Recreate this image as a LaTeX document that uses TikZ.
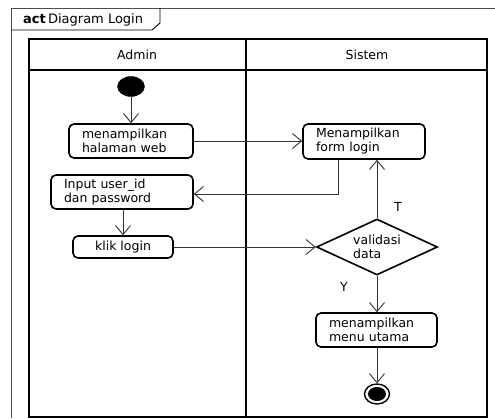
\documentclass[tikz,border=0pt]{standalone}
\usepackage{fontspec}
\setmainfont{DejaVu Sans}
\usetikzlibrary{arrows.meta,shapes.geometric}
\begin{document}
\begin{tikzpicture}[x=1pt,y=-1pt,
  every node/.style={font=\fontsize{12.5}{14}\selectfont},
  actbox/.style={draw=black,line width=1.6pt,rounded corners=5pt,inner xsep=13pt,inner ysep=2pt,align=left},
  flow/.style={draw=black!80,line width=0.9pt,-{Straight Barb[length=9pt,width=15pt,line width=0.9pt]}},
  lane/.style={draw=black,line width=2.2pt},
  lbl/.style={inner sep=0pt}
]
\useasboundingbox (0,0) rectangle (495,418);
% outer frame
\draw[black!70,line width=0.9pt] (495,8) -- (11,8) -- (11,418);
\draw[black,line width=0.9pt] (160,8) -- (160,23) -- (152,30) -- (11,30);
\node[lbl,anchor=base west,font=\fontsize{13}{15}\selectfont] (title) at (23,23) {\textbf{act}\,Diagram Login};
% swimlanes
\draw[lane] (29,39) rectangle (487,417);
\draw[black,line width=1.6pt] (29,70) -- (487,70);
\draw[lane] (246,39) -- (246,417);
\node[lbl] (admin) at (137,55) {Admin};
\node[lbl] (sistem) at (367,55) {Sistem};
% nodes
\node[draw,fill=black,ellipse,minimum width=27pt,minimum height=20pt,inner sep=0pt] (start) at (131,86.5) {};
\node[actbox,text width=98pt,minimum height=34pt] (web) at (131,141) {menampilkan\\halaman web};
\node[actbox,text width=116pt,minimum height=34pt] (input) at (122,192) {Input user\_id\\dan password};
\node[actbox,align=center,inner xsep=0pt,minimum width=100pt,minimum height=22pt] (klik) at (123,247) {klik login};
\node[actbox,text width=96pt,minimum height=35pt] (form) at (364,141.5) {Menampilkan\\form login};
\node[draw=black,line width=1.6pt,diamond,aspect=2,inner sep=0pt,minimum width=121pt,minimum height=56pt,align=left] (valid) at (377,247) {validasi\\data};
\node[actbox,text width=95pt,minimum height=34pt] (menu) at (376.5,330) {menampilkan\\menu utama};
\node[draw=black,line width=1.4pt,ellipse,minimum width=25pt,minimum height=20pt,inner sep=0pt] (end) at (377,394) {};
\node[fill=black,ellipse,minimum width=18pt,minimum height=14pt,inner sep=0pt] (endin) at (377,394) {};
% connectors
\draw[flow] (start) -- (web);
\draw[flow] (web.east) -- (form.west |- web.east);
\coordinate (fb) at (338,194);
\draw[flow] (form.south -| fb) -- (fb) -- (input.east |- fb);
\draw[flow] (input.south -| 123,0) -- (klik.north);
\draw[flow] (klik.east) -- (valid.west);
\draw[flow] (valid.north) -- (form.south -| valid.north);
\draw[flow] (valid.south) -- (menu.north -| valid.south);
\draw[flow] (menu.south -| end.north) -- (end.north);
\node[lbl] (T) at (398,207) {T};
\node[lbl] (Y) at (344,287) {Y};
\end{tikzpicture}
\end{document}
